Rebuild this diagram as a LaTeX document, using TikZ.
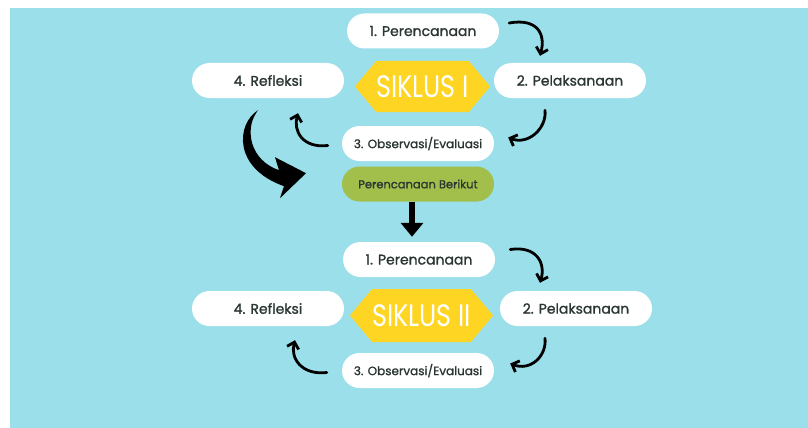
\documentclass[tikz,border=0pt]{standalone}
\usepackage{fontspec}
\setmainfont{Poppins}[FakeBold=1.2]
\newfontfamily\siklusfont[FakeStretch=0.82]{Poppins}
\usetikzlibrary{shapes.symbols,arrows.meta}
\definecolor{skyblue}{HTML}{9BDFEB}
\definecolor{sunyellow}{HTML}{FFD523}
\definecolor{leafgreen}{HTML}{A2BF4B}
\definecolor{inkgray}{HTML}{2A3632}
\tikzset{
  pill/.style={fill=white, rounded corners=17.5pt, minimum width=152pt, minimum height=35pt,
    inner sep=0pt, text=inkgray, font=\fontsize{14}{14}\selectfont},
  hexa/.style={signal, signal to=west and east, signal pointer angle=100, fill=sunyellow,
    minimum width=134pt, minimum height=51pt, inner sep=0pt, text=white,
    font=\siklusfont\fontsize{31}{31}\selectfont},
  curly/.style={line width=2.8pt, line cap=round, -{Straight Barb[length=6pt,width=12pt]}},
}
\begin{document}
\begin{tikzpicture}[x=1pt,y=-1pt]
  \useasboundingbox (0,0) rectangle (808,428);
  \fill[skyblue] (10,8) rectangle (808,428);

  % siklus I
  \node[pill] (p1) at (423,31) {1. Perencanaan};
  \node[pill] (p2) at (570,80.5) {2. Pelaksanaan};
  \node[pill] (p4) at (268,80.5) {4. Refleksi};
  \node[hexa] (s1) at (422.5,86.5) {SIKLUS I};
  \node[pill, font=\fontsize{12}{12}\selectfont] (p3) at (418,143.5) {3. Observasi/Evaluasi};
  \node[pill, fill=leafgreen, font=\fontsize{11.5}{11.5}\selectfont] (next) at (418,184) {Perencanaan Berikut};

  % siklus II
  \node[pill] (q1) at (419,259.5) {1. Perencanaan};
  \node[pill] (q2) at (576,308.5) {2. Pelaksanaan};
  \node[pill] (q4) at (268,308.5) {4. Refleksi};
  \node[hexa, minimum height=53pt] (s2) at (421.5,315.5) {SIKLUS II};
  \node[pill, font=\fontsize{12}{12}\selectfont] (q3) at (418,370.5) {3. Observasi/Evaluasi};

  \draw[curly] ([shift={(10,-8)}]p1.east) .. controls +(28,-5) and +(6,-22) .. ([shift={(-30,-7)}]p2.north);
  \draw[curly] ([shift={(-25,12)}]p2.south) .. controls +(2,18) and +(20,8) .. ([shift={(14,-6)}]p3.east);
  \draw[curly] ([shift={(-14,2)}]p3.west) .. controls +(-25,3) and +(-5,18) .. ([shift={(30,15)}]p4.south);

  \draw[curly] ([shift={(15,-10)}]q1.east) .. controls +(26,-4) and +(6,-20) .. ([shift={(-36,-8)}]q2.north);
  \draw[curly] ([shift={(-31,12)}]q2.south) .. controls +(2,18) and +(20,8) .. ([shift={(16,-7)}]q3.east);
  \draw[curly] ([shift={(-15,2)}]q3.west) .. controls +(-25,3) and +(-5,18) .. ([shift={(27,14)}]q4.south);

  % big arrow to the next plan
  \begin{scope}[shift={(p4.south)}]
    \fill[black] (-10,12) .. controls (-32,26) and (-35,70) .. (16,88)
      -- (12,100) -- (38,75) -- (7,59) -- (11,72)
      .. controls (-18,62) and (-23,32) .. (-12,15) -- cycle;
  \end{scope}

  \draw[line width=6pt, -{Triangle[length=14pt,width=22pt]}] ([xshift=-6pt]next.south) -- ([shift={(-7,-5)}]q1.north);
\end{tikzpicture}
\end{document}
